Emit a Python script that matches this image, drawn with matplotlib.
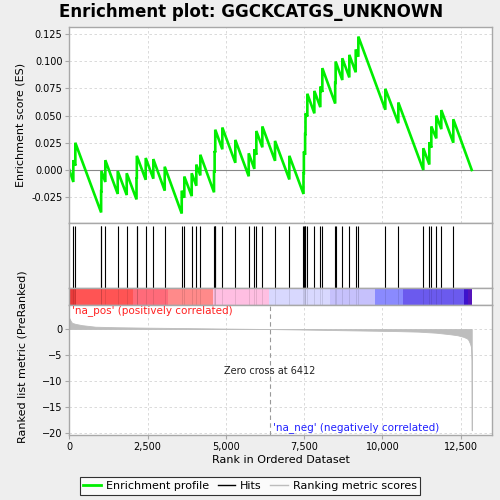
import matplotlib
matplotlib.use("Agg")
import matplotlib.pyplot as plt
from matplotlib.ticker import FuncFormatter
from matplotlib.lines import Line2D

# ---- data ----
N_GENES = 12852
ZERO_CROSS = 6412

hit_ranks = [127, 191, 1015, 1025, 1149, 1545, 1832, 2145, 2155, 2439,
             2682, 3046, 3589, 3672, 3908, 4055, 4183, 4620, 4640, 4660,
             4886, 5301, 5729, 5908, 5972, 6164, 6569, 7026, 7478, 7490,
             7530, 7542, 7601, 7825, 8016, 8080, 8490, 8505, 8718, 8942,
             9146, 9230, 10092, 10507, 11305, 11497, 11561, 11720, 11880, 12263]

es_before = [-0.011, 0.004, -0.039, -0.0195, -0.011, -0.022, -0.023, -0.027, -0.008, -0.009,
             -0.008, -0.019, -0.040, -0.0255, -0.024, -0.0145, -0.005, -0.0205, -0.0015, 0.016,
             0.019, 0.0066, -0.0058, 0.001, 0.014, 0.0208, 0.0084, -0.0087, -0.022, -0.003,
             0.014, 0.033, 0.049, 0.052, 0.0577, 0.0716, 0.061, 0.080, 0.0826, 0.085,
             0.0897, 0.104, 0.0553, 0.043, 0.0, 0.005, 0.0205, 0.029, 0.0375, 0.025]

es_after = [0.009, 0.025, -0.0195, -0.001, 0.009, -0.001, -0.003, -0.007, 0.013, 0.011,
            0.010, 0.003, -0.019, -0.006, -0.003, 0.005, 0.014, -0.0015, 0.0175, 0.037,
            0.039, 0.0276, 0.0153, 0.019, 0.0358, 0.040, 0.0267, 0.013, -0.003, 0.017,
            0.033, 0.052, 0.070, 0.0726, 0.0766, 0.0935, 0.080, 0.0996, 0.1026, 0.1057,
            0.1107, 0.1225, 0.0745, 0.062, 0.020, 0.0255, 0.040, 0.050, 0.055, 0.0466]

# ranked list metric, sampled along the ordered dataset
metric_ranks = [0, 40, 85, 190, 400, 830, 1500, 2430, 3500, 4600, 5500, ZERO_CROSS,
                7500, 8500, 9710, 10500, 11147, 11700, 12160, 12400, 12585, 12700,
                12745, 12797, 12830, 12845, N_GENES]
metric_vals = [2.1, 1.6, 1.2, 1.0, 0.75, 0.45, 0.35, 0.27, 0.2, 0.12, 0.06, 0.0,
               -0.1, -0.2, -0.32, -0.4, -0.5, -0.7, -1.0, -1.2, -1.5, -1.8,
               -2.1, -2.8, -3.5, -6.0, -19.5]

# colour bar segments (rank start, rank end, colour)
bar_starts = [0, 213, 2043, 3140, 4600, 6390, 8325, 9763, 10668, 12605, 12740]
bar_ends = [213, 2043, 3140, 4600, 6390, 8325, 9763, 10668, 12605, 12740, N_GENES]
bar_colors = ["#e83a3a", "#ff5454", "#ff6b7a", "#ff8a8a", "#ffbfe2", "#d8d8fe",
              "#c6c1fc", "#8a8afe", "#6b5aee", "#3d12cc", "#5514bb"]

es_ticks = [-0.025, 0.0, 0.025, 0.05, 0.075, 0.1, 0.125]
metric_ticks = [0, -5, -10, -15, -20]
rank_ticks = [0, 2500, 5000, 7500, 10000, 12500]

XMAX = 13510
FRAME = "#a8a8a8"
GRID = "#d4d4d4"

fig = plt.figure(figsize=(5, 5), dpi=100, facecolor="#eeeeee")
L, W = 0.1387, 0.846
ax_es = fig.add_axes([L, 0.5546, W, 0.3908])
ax_hits = fig.add_axes([L, 0.4234, W, 0.1312])
ax_bar = fig.add_axes([L, 0.390, W, 0.0334])
ax_m = fig.add_axes([L, 0.130, W, 0.260])

for ax in (ax_es, ax_hits, ax_bar, ax_m):
    ax.set_facecolor("white")
    ax.set_xlim(0, XMAX)
    for s in ax.spines.values():
        s.set_color(FRAME)
        s.set_linewidth(1.0)

# ---- enrichment profile ----
xs, ys = [0], [0.0]
for r, b, a in zip(hit_ranks, es_before, es_after):
    xs += [r, r]
    ys += [b, a]
xs.append(N_GENES)
ys.append(0.0)

ax_es.set_ylim(-0.0484, 0.131)
ax_es.set_yticks(es_ticks)
ax_es.yaxis.set_major_formatter(FuncFormatter(lambda v, p: f"{v:.3f}"))
ax_es.set_xticks(rank_ticks)
ax_es.tick_params(axis="x", length=0, labelbottom=False)
ax_es.tick_params(axis="y", labelsize=7, length=3, color=FRAME, pad=2)
ax_es.grid(True, color=GRID, linestyle=(0, (3, 3)), linewidth=0.6)
ax_es.set_axisbelow(True)
ax_es.axhline(0, color="#888888", linewidth=0.8)
ax_es.plot(xs, ys, color="#00ee00", linewidth=1.9, solid_joinstyle="miter")
ax_es.set_ylabel("Enrichment score (ES)", fontsize=8, labelpad=4)

# ---- hits ----
ax_hits.vlines(hit_ranks, 0, 0.95, color="black", linewidth=0.8)
ax_hits.set_ylim(0, 1)
ax_hits.set_xticks([])
ax_hits.set_yticks([])

# ---- colour bar ----
for s, e, c in zip(bar_starts, bar_ends, bar_colors):
    ax_bar.axvspan(s, e, color=c, linewidth=0)
ax_bar.vlines(hit_ranks, 0, 1, color="black", linewidth=0.6, alpha=0.12)
ax_bar.set_ylim(0, 1)
ax_bar.set_xticks([])
ax_bar.set_yticks([])

# ---- ranked list metric ----
ax_m.fill_between(metric_ranks, metric_vals, 0, color="#bdbdbd", linewidth=0.6,
                  edgecolor="#bdbdbd")
ax_m.set_ylim(-20.4, 4.63)
ax_m.set_yticks(metric_ticks)
ax_m.set_xticks(rank_ticks)
ax_m.xaxis.set_major_formatter(FuncFormatter(lambda v, p: f"{int(v):,}"))
ax_m.tick_params(labelsize=7, length=3, color=FRAME, pad=2)
ax_m.grid(True, color=GRID, linestyle=(0, (3, 3)), linewidth=0.6)
ax_m.set_axisbelow(True)
ax_m.axvline(ZERO_CROSS, color="#999999", linestyle=(0, (4, 3)), linewidth=0.8)
ax_m.text(ZERO_CROSS, -8.05, f"Zero cross at {ZERO_CROSS}", ha="center", va="center",
          fontsize=7, color="#222222")
ax_m.text(90, 3.5, "'na_pos' (positively correlated)", ha="left", va="center",
          fontsize=7.5, color="#ff2020")
ax_m.text(9156, -19.0, "'na_neg' (negatively correlated)", ha="center", va="center",
          fontsize=7.5, color="#2020ff")
ax_m.set_xlabel("Rank in Ordered Dataset", fontsize=8, labelpad=2)
ax_m.set_ylabel("Ranked list metric (PreRanked)", fontsize=8, labelpad=2)
ax_m.yaxis.set_label_coords(-0.1, 0.6)

fig.text(0.502, 0.976, "Enrichment plot: GGCKCATGS_UNKNOWN", ha="center", va="center",
         fontsize=12, fontweight="bold")

handles = [Line2D([], [], color="#00ee00", linewidth=2),
           Line2D([], [], color="black", linewidth=1),
           Line2D([], [], color="#bdbdbd", linewidth=1)]
leg = fig.legend(handles, ["Enrichment profile", "Hits", "Ranking metric scores"],
                 loc="center", bbox_to_anchor=(0.5, 0.028), ncol=3, fontsize=8,
                 frameon=True, fancybox=False, edgecolor="black", handlelength=1.6,
                 handletextpad=0.4, columnspacing=0.8, borderpad=0.35)
leg.get_frame().set_linewidth(0.8)

fig.savefig("out.png", dpi=100, facecolor=fig.get_facecolor())
